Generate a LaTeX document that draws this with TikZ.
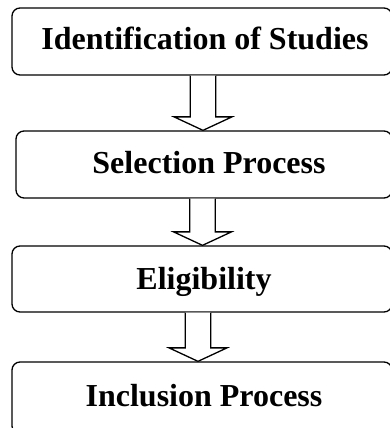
\documentclass[tikz,border=0pt]{standalone}
\usepackage{fontspec}
\setmainfont{Liberation Serif}
\usetikzlibrary{calc}
\tikzset{
  box/.style={draw=black, line width=1.3pt, rounded corners=8pt, fill=white,
    inner sep=0pt, font=\bfseries\fontsize{32}{38}\selectfont},
  fat/.style={draw=black, line width=1.3pt, fill=white, line join=miter}
}
\begin{document}
\begin{tikzpicture}[x=1pt,y=-1pt]
\useasboundingbox (0,0) rectangle (390,428);
\clip (0,0) rectangle (390,428);
\fill[white] (0,0) rectangle (390,428);
% boxes (right parts run past the picture's edge)
\node[box, minimum width=380pt, minimum height=67pt] (b1) at (202,41.5) {};
\node[box, minimum width=376pt, minimum height=67pt] (b2) at (204,164.5) {};
\node[box, minimum width=380pt, minimum height=66pt] (b3) at (202,279) {};
\node[box, minimum width=380pt, minimum height=72pt] (b4) at (202,398) {};
% texts
\node[font=\bfseries\fontsize{32}{38}\selectfont, anchor=base, inner sep=0pt] (t1) at (205,50) {Identification of Studies};
\node[font=\bfseries\fontsize{32}{38}\selectfont, anchor=base, inner sep=0pt] (t2) at (209,173) {Selection Process};
\node[font=\bfseries\fontsize{32}{38}\selectfont, anchor=base, inner sep=0pt] (t3) at (204,289) {Eligibility};
\node[font=\bfseries\fontsize{32}{38}\selectfont, anchor=base, inner sep=0pt] (t4) at (204,406) {Inclusion Process};
% arrow tips
\coordinate (a1) at (b2.north -| 203,0);
\coordinate (a2) at (b3.north -| 202.5,0);
\coordinate (a3) at (b4.north -| 198,0);
\coordinate (s1) at (b1.south -| a1);
\coordinate (s2) at (b2.south -| a2);
\coordinate (s3) at (b3.south -| a3);
\foreach \s/\a in {s1/a1,s2/a2,s3/a3}{
  \draw[fat] ([shift={(-12.8,0)}]\s) -- ([shift={(-12.8,-13.5)}]\a) -- ([shift={(-29,-13.5)}]\a)
    -- (\a) -- ([shift={(29,-13.5)}]\a) -- ([shift={(12.8,-13.5)}]\a) -- ([shift={(12.8,0)}]\s);
}
\end{tikzpicture}
\end{document}
